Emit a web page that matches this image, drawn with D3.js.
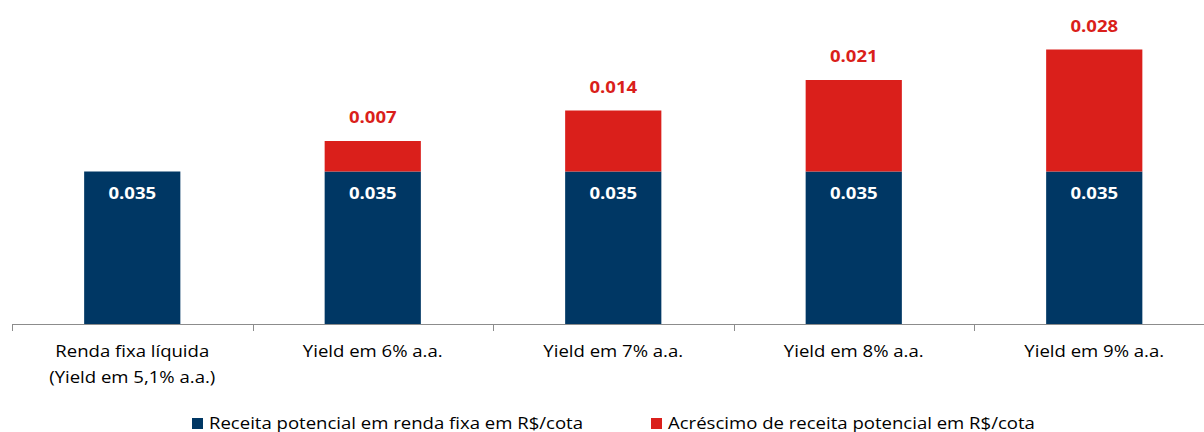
<!DOCTYPE html>
<html>
<head>
<meta charset="utf-8">
<script src="https://cdn.jsdelivr.net/npm/d3@7"></script>
<style>
  html, body { margin: 0; padding: 0; background: #fff; }
  svg { display: block; }
  text { font-family: "Open Sans", "Noto Sans", sans-serif; }
</style>
</head>
<body>
<svg id="chart" width="1204" height="432"></svg>
<script>
// Categories (two-line labels split by "\n")
const categories = [
  "Renda fixa líquida\n(Yield em 5,1% a.a.)",
  "Yield em 6% a.a.",
  "Yield em 7% a.a.",
  "Yield em 8% a.a.",
  "Yield em 9% a.a."
];
// Base income from fixed income, R$/cota
const baseValues = [0.035, 0.035, 0.035, 0.035, 0.035];
// Additional potential income, R$/cota
const extraValues = [0, 0.007, 0.014, 0.021, 0.028];
const seriesNames = [
  "Receita potencial em renda fixa em R$/cota",
  "Acréscimo de receita potencial em R$/cota"
];
const colors = ["#003764", "#DA1F1B"];

// Text is drawn slightly widened, like the original wide-set typeface
const stretch = 1.16;

const svg = d3.select("#chart");
const margin = { left: 12, bottom: 324, top: 0 };
const plotWidth = 1202.5;

const x = d3.scaleBand()
  .domain(categories)
  .range([margin.left, margin.left + plotWidth])
  .paddingInner(0.6)
  .paddingOuter(0.3);

const y = d3.scaleLinear()
  .domain([0, 0.035])
  .range([margin.bottom, 171.5]);

const data = categories.map((c, i) => ({ c, base: baseValues[i], extra: extraValues[i] }));
const cx = d => x(d.c) + x.bandwidth() / 2;

// Base (blue) bars
svg.append("g").selectAll("rect")
  .data(data).join("rect")
  .attr("x", d => x(d.c))
  .attr("width", x.bandwidth())
  .attr("y", d => y(d.base))
  .attr("height", d => y(0) - y(d.base))
  .attr("fill", colors[0]);

// Additional (red) bars stacked on top
svg.append("g").selectAll("rect")
  .data(data.filter(d => d.extra > 0)).join("rect")
  .attr("x", d => x(d.c))
  .attr("width", x.bandwidth())
  .attr("y", d => y(d.base + d.extra))
  .attr("height", d => y(d.base) - y(d.base + d.extra))
  .attr("fill", colors[1]);

// Value labels inside base bars
svg.append("g").selectAll("text")
  .data(data).join("text")
  .attr("transform", d => `translate(${cx(d)},${y(d.base) + 27.5}) scale(${stretch},1)`)
  .attr("text-anchor", "middle")
  .attr("fill", "#fff")
  .attr("font-weight", "bold")
  .attr("font-size", 16)
  .text(d => d.base.toFixed(3));

// Value labels above additional bars
svg.append("g").selectAll("text")
  .data(data.filter(d => d.extra > 0)).join("text")
  .attr("transform", d => `translate(${cx(d)},${y(d.base + d.extra) - 18}) scale(${stretch},1)`)
  .attr("text-anchor", "middle")
  .attr("fill", colors[1])
  .attr("font-weight", "bold")
  .attr("font-size", 16)
  .text(d => d.extra.toFixed(3));

// Category axis with ticks at band boundaries
const axisG = svg.append("g");
axisG.append("line")
  .attr("x1", margin.left).attr("x2", margin.left + plotWidth)
  .attr("y1", margin.bottom + 0.5).attr("y2", margin.bottom + 0.5)
  .attr("stroke", "#8c8c8c").attr("stroke-width", 1);
const boundaries = d3.range(categories.length + 1).map(i => margin.left + i * x.step());
axisG.selectAll("line.tick")
  .data(boundaries).join("line")
  .attr("class", "tick")
  .attr("x1", d => Math.round(d) + 0.5).attr("x2", d => Math.round(d) + 0.5)
  .attr("y1", margin.bottom).attr("y2", margin.bottom + 7)
  .attr("stroke", "#8c8c8c").attr("stroke-width", 1);

const catLabels = axisG.selectAll("text.cat")
  .data(categories).join("text")
  .attr("class", "cat")
  .attr("text-anchor", "middle")
  .attr("font-size", 16)
  .attr("fill", "#000")
  .attr("transform", d => `translate(${x(d) + x.bandwidth() / 2},357) scale(${stretch},1)`);
catLabels.selectAll("tspan")
  .data(d => d.split("\n")).join("tspan")
  .attr("x", 0)
  .attr("dy", (d, i) => i === 0 ? 0 : 26)
  .text(d => d);

// Legend
const legendX = [192, 651];
const legend = svg.append("g").selectAll("g")
  .data(seriesNames).join("g")
  .attr("transform", (d, i) => `translate(${legendX[i]},418)`);
legend.append("rect")
  .attr("width", 11).attr("height", 11)
  .attr("fill", (d, i) => colors[i]);
legend.append("text")
  .attr("transform", `translate(17,10.5) scale(${stretch},1)`)
  .attr("font-size", 16)
  .attr("fill", "#000")
  .text(d => d);
</script>
</body>
</html>
